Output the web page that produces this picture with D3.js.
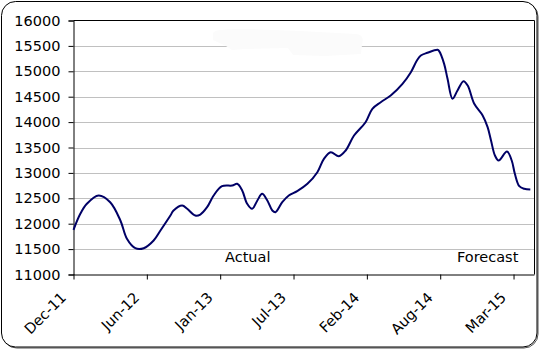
<!DOCTYPE html>
<html>
<head>
<meta charset="utf-8">
<script src="https://cdn.jsdelivr.net/npm/d3@7"></script>
<style>
  html, body { margin: 0; padding: 0; background: #fff; }
  svg { display: block; }
  text { font-family: "DejaVu Sans", Verdana, sans-serif; fill: #000; }
</style>
</head>
<body>
<svg id="chart" width="540" height="350"></svg>
<script>
// Weekly index (0 = first week of Dec-11) and index value at that week
const weeks = [0, 2.6, 5.1, 9.6, 14, 17.9, 20.4, 23.6, 26.8, 30.6, 33.2, 37, 38.2, 41.5, 43.4,
  46.5, 48.4, 51, 53.5, 56.7, 60.6, 62.5, 64.4, 66.3, 68.2, 70.2, 72, 74, 75.9, 77.1,
  79.7, 82.2, 85.4, 89.3, 93.1, 95.6, 98.2, 101.3, 103.9, 107.1, 111.5, 114.1, 117.3,
  121.1, 125.6, 128.8, 131.1, 132.6, 135.1, 139, 139.6, 141.5, 142.8, 144.7, 146.6,
  148.9, 150.5, 153, 156.2, 158.1, 159.4, 160.9, 162.3, 165.5, 167.3, 168.5, 170.2,
  172.1, 174.4];
const values = [11880, 12195, 12392, 12555, 12423, 12063, 11703, 11518, 11518, 11669, 11866,
  12161, 12260, 12358, 12293, 12161, 12181, 12325, 12555, 12738, 12752, 12785, 12654,
  12392, 12293, 12457, 12588, 12457, 12260, 12227, 12423, 12555, 12640, 12785, 13014,
  13277, 13408, 13329, 13441, 13736, 13998, 14262, 14392, 14524, 14754, 14982, 15213,
  15311, 15364, 15423, 15396, 15147, 14852, 14459, 14622, 14805, 14720, 14360, 14130,
  13900, 13638, 13342, 13244, 13421, 13244, 12982, 12738, 12687, 12673];

// Category axis: one label every 28 weeks
const tickWeeks = [0, 28, 56, 84, 112, 140, 168];
const tickLabels = ["Dec-11", "Jun-12", "Jan-13", "Jul-13", "Feb-14", "Aug-14", "Mar-15"];
const lastWeek = 176;
const yTicks = d3.range(11000, 16001, 500);

const svg = d3.select("#chart");
const plot = { left: 73.5, top: 20.5, right: 534.5, bottom: 274.5 };

// Chart area frame with a faint shadow
svg.append("rect")
  .attr("x", 2.5).attr("y", 2.5).attr("width", 535.5).attr("height", 345.5)
  .attr("rx", 14).attr("fill", "none").attr("stroke", "#555").attr("stroke-width", 1);
svg.append("rect")
  .attr("x", 1.5).attr("y", 1.5).attr("width", 535.5).attr("height", 345.5)
  .attr("rx", 14).attr("fill", "#fff").attr("stroke", "#000").attr("stroke-width", 1);

const x = d3.scaleLinear().domain([0, lastWeek]).range([plot.left, plot.right]);
const y = d3.scaleLinear().domain([11000, 16000]).range([plot.bottom, plot.top]);

// Horizontal gridlines
svg.append("g")
  .selectAll("line")
  .data(yTicks.filter(v => v > 11000 && v < 16000))
  .join("line")
  .attr("x1", plot.left).attr("x2", plot.right)
  .attr("y1", d => Math.round(y(d)) + 0.5).attr("y2", d => Math.round(y(d)) + 0.5)
  .attr("stroke", "#c0c0c0").attr("stroke-width", 1);

// Pale erased patch near the top of the plot area
svg.append("path")
  .attr("d", "M213,34 C213,29 228,29 250,29 L300,31 L356,34 C364,35 363,40 362,45 L361,54 L325,56 L293,55 L288,48 L245,49 L232,50 L226,46 L213,40 Z")
  .attr("fill", "#fbfbfb");

// Plot area frame (top and right)
svg.append("path")
  .attr("d", `M${plot.left},${plot.top} H${plot.right} V${plot.bottom}`)
  .attr("fill", "none").attr("stroke", "#000").attr("stroke-width", 1);

// Y axis
const yAxis = svg.append("g")
  .attr("transform", `translate(${plot.left},0)`)
  .call(d3.axisLeft(y).tickValues(yTicks).tickSize(5).tickPadding(8).tickFormat(d3.format("d")));
yAxis.select(".domain").attr("stroke", "#000");
yAxis.selectAll(".tick line").attr("stroke", "#000");
yAxis.selectAll(".tick text")
  .style("font-family", "'DejaVu Sans', Verdana, sans-serif")
  .style("font-size", "14.5px");

// X axis
const xAxis = svg.append("g")
  .attr("transform", `translate(0,${plot.bottom})`)
  .call(d3.axisBottom(x).tickValues(tickWeeks).tickSize(5)
    .tickFormat((d, i) => tickLabels[i]));
xAxis.select(".domain").attr("d", `M${plot.left},0.5H${plot.right}`).attr("stroke", "#000");
xAxis.selectAll(".tick line").attr("stroke", "#000");
xAxis.selectAll(".tick text")
  .style("font-family", "'DejaVu Sans', Verdana, sans-serif")
  .style("font-size", "14.5px")
  .attr("text-anchor", "end")
  .attr("dy", null)
  .attr("y", 0)
  .attr("transform", "translate(-7,24) rotate(-45)");

// Index line
const line = d3.line()
  .x((d, i) => x(weeks[i]))
  .y(d => y(d))
  .curve(d3.curveCatmullRom.alpha(0.5));
svg.append("path")
  .datum(values)
  .attr("d", line)
  .attr("fill", "none")
  .attr("stroke", "#000066")
  .attr("stroke-width", 2)
  .attr("stroke-linejoin", "round");

// Period labels
svg.append("text").attr("x", 225).attr("y", 262)
  .style("font-size", "14.5px").text("Actual");
svg.append("text").attr("x", 457).attr("y", 262)
  .style("font-size", "14.5px").text("Forecast");
</script>
</body>
</html>
